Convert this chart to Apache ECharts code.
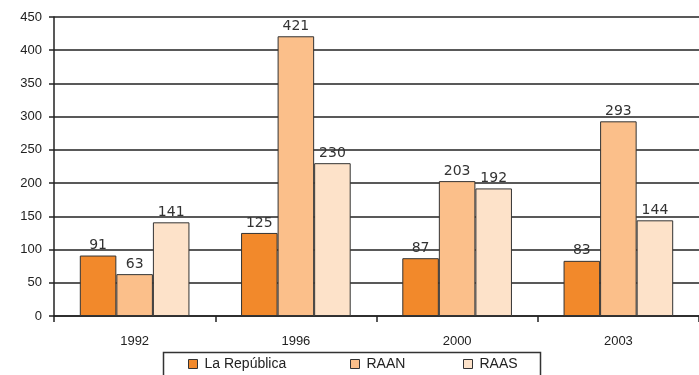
<!DOCTYPE html>
<html>
<head>
<meta charset="utf-8">
<script src="https://cdn.jsdelivr.net/npm/echarts@6/dist/echarts.min.js"></script>
<style>
  html, body { margin: 0; padding: 0; background: #fff; }
  #chart { width: 699px; height: 375px; }
</style>
</head>
<body>
<div id="chart"></div>
<script>
// Years on the category axis
const years = ['1992', '1996', '2000', '2003'];
// One series per region
const laRepublica = [91, 125, 87, 83];
const raan = [63, 421, 203, 293];
const raas = [141, 230, 192, 144];
const seriesNames = ['La República', 'RAAN', 'RAAS'];
const seriesColors = ['#F2892B', '#FBBF8A', '#FDE2C9'];

const chart = echarts.init(document.getElementById('chart'), null, { renderer: 'canvas' });

const labelFont = { fontFamily: 'DejaVu Sans', fontSize: 14, color: '#333' };

function barSeries(name, data, color) {
  return {
    name: name,
    type: 'bar',
    data: data,
    barGap: '0%',
    barCategoryGap: '32%',
    itemStyle: { color: color, borderColor: '#333', borderWidth: 1 },
    label: Object.assign({ show: true, position: 'top', distance: 3 }, labelFont),
    emphasis: { disabled: true },
    animation: false
  };
}

// Separate legend components so each entry sits where it should inside the frame
const legendBase = {
  top: 357,
  padding: 0,
  itemWidth: 9,
  itemHeight: 9,
  icon: 'rect',
  itemStyle: { borderColor: '#333', borderWidth: 1 },
  textStyle: { fontFamily: 'Liberation Sans', fontSize: 14, color: '#222', padding: [0, 0, 0, 2] },
  selectedMode: false
};

chart.setOption({
  animation: false,
  grid: { left: 54, right: 0, top: 17, bottom: 59, containLabel: false },
  xAxis: {
    type: 'category',
    data: years,
    axisLine: { show: true, lineStyle: { color: '#222', width: 1.5 } },
    axisTick: { show: true, length: 6, lineStyle: { color: '#222', width: 1.5 } },
    axisLabel: { margin: 19, fontFamily: 'Liberation Sans', fontSize: 13, color: '#222' }
  },
  yAxis: {
    type: 'value',
    min: 0,
    max: 450,
    interval: 50,
    axisLine: { show: true, lineStyle: { color: '#222', width: 1.5 } },
    axisTick: { show: true, length: 5, lineStyle: { color: '#222', width: 1.5 } },
    axisLabel: { margin: 12, fontFamily: 'Liberation Sans', fontSize: 13, color: '#222' },
    splitLine: { show: true, lineStyle: { color: '#222', width: 1.5 } }
  },
  legend: [
    Object.assign({ left: 188, data: [seriesNames[0]] }, legendBase),
    Object.assign({ left: 350, data: [seriesNames[1]] }, legendBase),
    Object.assign({ left: 463, data: [seriesNames[2]] }, legendBase)
  ],
  graphic: [
    {
      type: 'rect',
      shape: { x: 163.5, y: 352.5, width: 377, height: 40 },
      style: { fill: 'none', stroke: '#333', lineWidth: 1.5 },
      z: 0
    }
  ],
  series: [
    barSeries(seriesNames[0], laRepublica, seriesColors[0]),
    barSeries(seriesNames[1], raan, seriesColors[1]),
    barSeries(seriesNames[2], raas, seriesColors[2])
  ]
});
</script>
</body>
</html>
